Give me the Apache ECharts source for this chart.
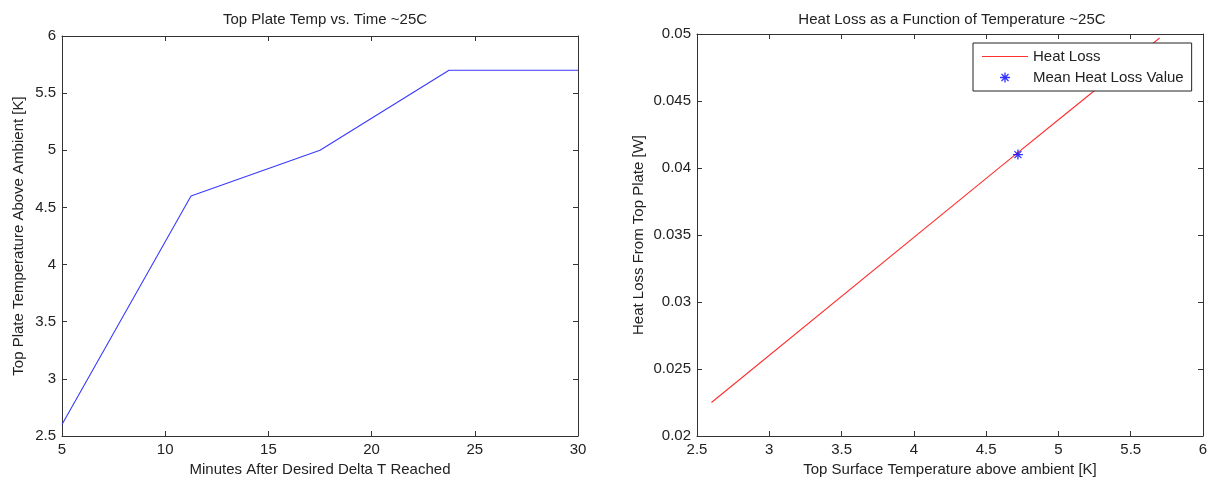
<!DOCTYPE html>
<html>
<head>
<meta charset="utf-8">
<title>Top Plate Heat Loss</title>
<script src="https://cdn.jsdelivr.net/npm/echarts@6/dist/echarts.min.js"></script>
<style>
  html, body { margin: 0; padding: 0; background: #fff; }
  #chart { width: 1213px; height: 482px; }
</style>
</head>
<body>
<div id="chart"></div>
<script>
// Left panel: plate temperature over time
const minutes = [5, 11.25, 17.5, 23.75, 30];
const plateTemp = [2.6, 4.6, 5.0, 5.7, 5.7];

// Right panel: heat loss against plate temperature
const surfaceTemp = [2.6, 4.6, 5.0, 5.7, 5.7];
const heatLoss = [0.0225, 0.0401, 0.0436, 0.0497, 0.0497];
const meanPoint = [4.72, 0.041];

const FONT = 'Liberation Sans, Arial, Helvetica, sans-serif';
const INK = '#222';
const AXIS = '#333';

// Matlab-style asterisk marker
const ASTERISK = 'path://M-0.65,-5L0.65,-5L0.65,5L-0.65,5Z' +
  'M-5,-0.65L5,-0.65L5,0.65L-5,0.65Z' +
  'M-3.05,-3.95L3.95,3.05L3.05,3.95L-3.95,-3.05Z' +
  'M-3.95,3.05L3.05,-3.95L3.95,-3.05L-3.05,3.95Z';

// Plain line swatch for the legend; the tiny corner specks keep the box at 46x10
const LINE_SWATCH = 'path://M0,0L0.01,0L0,0.01Z' +
  'M0,4.5L46,4.5L46,5.5L0,5.5Z' +
  'M45.99,10L46,10L46,9.99Z';

function boxAxis(gridIndex, pos, min, max, interval, main, name, nameGap) {
  return {
    type: 'value', gridIndex, position: pos, min, max, interval,
    name: main ? name : '', nameLocation: 'middle', nameGap,
    nameTextStyle: { color: INK, fontFamily: FONT, fontSize: 15 },
    axisLine: { show: true, onZero: false, lineStyle: { color: AXIS, width: 1 } },
    axisTick: { show: true, inside: true, length: 5, lineStyle: { color: AXIS } },
    axisLabel: { show: main, color: INK, fontFamily: FONT, fontSize: 15, margin: 6 },
    splitLine: { show: false }
  };
}

const chart = echarts.init(document.getElementById('chart'), null, { renderer: 'canvas' });
chart.setOption({
  backgroundColor: '#fff',
  animation: false,
  title: [
    { text: 'Top Plate Temp vs. Time ~25C', left: 320, top: 7, textAlign: 'center',
      textStyle: { color: INK, fontFamily: FONT, fontSize: 15, fontWeight: 'normal' } },
    { text: 'Heat Loss as a Function of Temperature ~25C', left: 947, top: 7, textAlign: 'center',
      textStyle: { color: INK, fontFamily: FONT, fontSize: 15, fontWeight: 'normal' } }
  ],
  grid: [
    { left: 62, top: 36, width: 516, height: 400 },
    { left: 697, top: 34, width: 506, height: 402 }
  ],
  xAxis: [
    boxAxis(0, 'bottom', 5, 30, 5, true, 'Minutes After Desired Delta T Reached', 24),
    boxAxis(0, 'top', 5, 30, 5, false, '', 0),
    boxAxis(1, 'bottom', 2.5, 6, 0.5, true, 'Top Surface Temperature above ambient [K]', 24),
    boxAxis(1, 'top', 2.5, 6, 0.5, false, '', 0)
  ],
  yAxis: [
    boxAxis(0, 'left', 2.5, 6, 0.5, true, 'Top Plate Temperature Above Ambient [K]', 36),
    boxAxis(0, 'right', 2.5, 6, 0.5, false, '', 0),
    boxAxis(1, 'left', 0.02, 0.05, 0.005, true, 'Heat Loss From Top Plate [W]', 51),
    boxAxis(1, 'right', 0.02, 0.05, 0.005, false, '', 0)
  ],
  legend: {
    left: 973, top: 43, orient: 'vertical',
    backgroundColor: '#fff', borderColor: '#222', borderWidth: 1,
    padding: [6, 8, 6, 9], itemGap: 6, itemWidth: 46, itemHeight: 10,
    textStyle: { color: INK, fontFamily: FONT, fontSize: 15 },
    data: [
      { name: 'Heat Loss', icon: LINE_SWATCH },
      { name: 'Mean Heat Loss Value', icon: ASTERISK }
    ]
  },
  series: [
    {
      type: 'line', xAxisIndex: 0, yAxisIndex: 0,
      data: minutes.map((m, i) => [m, plateTemp[i]]),
      symbol: 'none', lineStyle: { color: '#3a3aff', width: 1.1 }, itemStyle: { color: '#3a3aff' }
    },
    {
      name: 'Heat Loss', type: 'line', xAxisIndex: 2, yAxisIndex: 2,
      data: surfaceTemp.map((t, i) => [t, heatLoss[i]]),
      symbol: 'none', lineStyle: { color: '#ff3030', width: 1.1 }, itemStyle: { color: '#ff3030' }
    },
    {
      name: 'Mean Heat Loss Value', type: 'scatter', xAxisIndex: 2, yAxisIndex: 2,
      data: [meanPoint], symbol: ASTERISK, symbolSize: 10, symbolKeepAspect: true,
      itemStyle: { color: '#0000ff' }, z: 5
    }
  ]
});
</script>
</body>
</html>
